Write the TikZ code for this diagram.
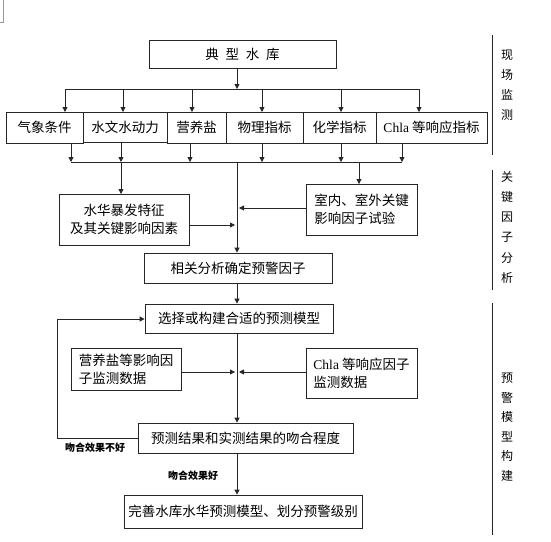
\documentclass[tikz,border=0pt]{standalone}
\usepackage{fontspec}
\setmainfont{Noto Sans CJK SC}
\newfontfamily\latinserif{Liberation Serif}
\usetikzlibrary{arrows.meta}
\tikzset{
  box/.style={draw=black!85, line width=0.8pt, inner sep=0pt, font=\fontsize{13.5}{18}\selectfont, align=center},
  conn/.style={draw=black!85, line width=0.8pt},
  arr/.style={conn, -{Triangle[length=5pt,width=5pt]}},
  side/.style={font=\fontsize{12}{13}\selectfont, inner sep=0pt},
  lab/.style={font=\bfseries\fontsize{10}{11}\selectfont, inner sep=0pt},
}
\newcommand{\bx}[6]{% name, x1,y1,x2,y2, text
  \node[box, minimum width=#4-#2, minimum height=#5-#3] (#1) at ({(#2+#4)/2},{(#3+#5)/2}) {#6};}
\begin{document}
\begin{tikzpicture}[x=1pt,y=-1pt]
\useasboundingbox (0,0) rectangle (551,541);
% corner artifact
\draw[black!40, line width=0.6pt] (3,0) -- (3,22) -- (0,22);

\bx{top}{149}{40}{336}{68}{典\hspace{0.5em}型\hspace{0.5em}水\hspace{0.5em}库}
\bx{b1}{6}{112}{83}{143}{气象条件}
\bx{b2}{83}{112}{167}{142}{水文水动力}
\bx{b3}{167}{112}{226}{143}{营养盐}
\bx{b4}{226}{112}{303}{143}{物理指标}
\bx{b5}{303}{112}{376}{143}{化学指标}
\bx{b6}{376}{112}{487}{143}{{\latinserif Chla} 等响应指标}

\bx{shz}{59}{194}{189}{245}{水华暴发特征\\及其关键影响因素}
\node[box, minimum width=111pt, minimum height=51pt, align=left] (snw) at (361.5,209.5) {室内、室外关键\\影响因子试验};
\bx{xg}{144}{253}{332}{283}{相关分析确定预警因子}
\bx{xz}{145}{304}{333}{333}{选择或构建合适的预测模型}
\node[box, minimum width=110pt, minimum height=42pt, align=left] (yy) at (126,369) {营养盐等影响因\\子监测数据};
\node[box, minimum width=111pt, minimum height=50pt, align=left] (chla) at (361.5,373) {{\latinserif Chla} 等响应因子\\监测数据};
\bx{yc}{138}{423}{353}{453}{预测结果和实测结果的吻合程度}
\bx{ws}{124}{495}{362}{528}{完善水库水华预测模型、划分预警级别}

% top fan-out
\coordinate (busA) at (237,89);
\draw[arr] (busA |- top.south) -- (busA);
\draw[conn] (65,89) -- (419,89);
\foreach \x in {65,123,192,262,341,419}
  \draw[arr] (\x,89) -- (\x,112);

% fan-in bus
\coordinate (busB) at (237,162);
\draw[conn] (71,162) -- (402,162);
\foreach \x in {71,121,190,262,341,402}
  \draw[arr] (\x,143) -- (\x,162);
\draw[arr] (121,162) -- (121,194);
\draw[arr] (359,162) -- (359,184);
\draw[arr] (busB) -- (busB |- xg.north);
\coordinate (m1) at (239,208);
\coordinate (m2) at (235,225);
\draw[arr] (snw.west |- m1) -- (m1);
\draw[arr] (shz.east |- m2) -- (m2);

\coordinate (c1) at (237,283);
\draw[arr] (c1) -- (c1 |- xz.north);
\coordinate (c2) at (237,333);
\draw[arr] (c2) -- (c2 |- yc.north);
\coordinate (m3) at (235,372);
\coordinate (m4) at (239,372);
\draw[arr] (yy.east |- m3) -- (m3);
\draw[arr] (chla.west |- m4) -- (m4);

% feedback
\draw[arr] (yc.west |- 0,438) -- (57,438) -- (57,319) -- (xz.west |- 0,319);
\node[lab] at (95,448) {吻合效果不好};

\coordinate (c3) at (237,453);
\draw[arr] (c3) -- (c3 |- ws.north);
\node[lab] at (193,476) {吻合效果好};

% right side
\draw[conn] (492,35) -- (492,155);
\draw[conn] (492,170) -- (492,290);
\draw[conn] (492,303) -- (492,535);
\foreach \c [count=\i] in {现,场,监,测}
  \node[side] at (507,{55+20*(\i-1)}) {\c};
\foreach \c [count=\i] in {关,键,因,子,分,析}
  \node[side] at (507,{177+20.2*(\i-1)}) {\c};
\foreach \c [count=\i] in {预,警,模,型,构,建}
  \node[side] at (507,{378+19.6*(\i-1)}) {\c};
\end{tikzpicture}
\end{document}
